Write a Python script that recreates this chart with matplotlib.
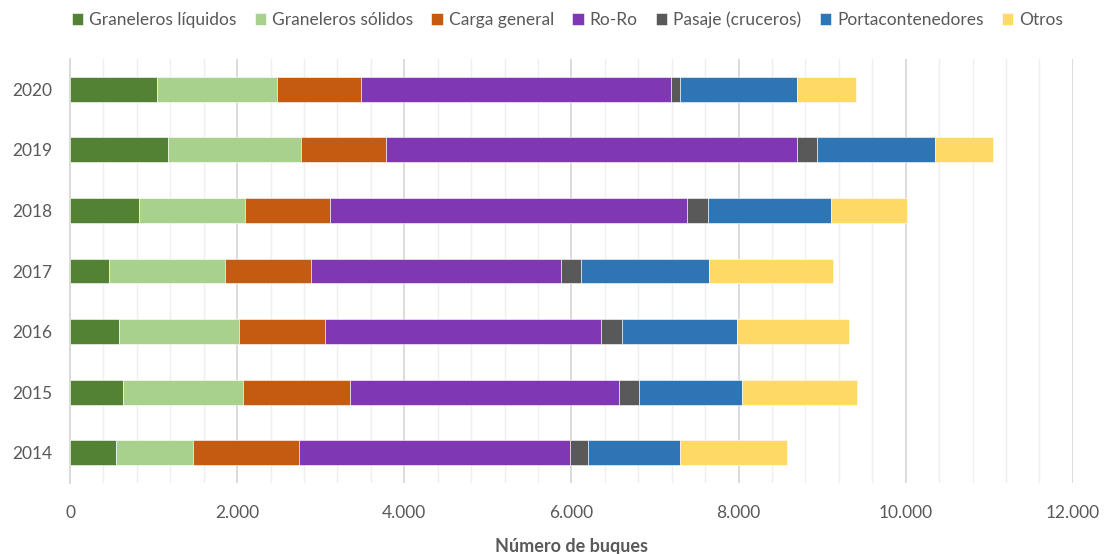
import matplotlib
matplotlib.use("Agg")
import matplotlib.pyplot as plt
import numpy as np
from matplotlib.ticker import MultipleLocator, FuncFormatter

years = ["2014", "2015", "2016", "2017", "2018", "2019", "2020"]
series = ["Graneleros líquidos", "Graneleros sólidos", "Carga general", "Ro-Ro",
          "Pasaje (cruceros)", "Portacontenedores", "Otros"]
colors = ["#548235", "#A9D18E", "#C55A11", "#7F37B4", "#595959", "#2E75B6", "#FFD966"]

graneleros_liquidos = [550, 634, 586, 470, 829, 1172, 1037]
graneleros_solidos = [921, 1435, 1436, 1380, 1261, 1595, 1435]
carga_general = [1264, 1280, 1028, 1033, 1020, 1009, 1009]
ro_ro = [3246, 3222, 3302, 2990, 4274, 4928, 3708]
pasaje = [219, 239, 251, 239, 248, 239, 116]
portacontenedores = [1100, 1228, 1376, 1535, 1475, 1404, 1395]
otros = [1277, 1384, 1339, 1480, 913, 694, 702]

data = [graneleros_liquidos, graneleros_solidos, carga_general, ro_ro,
        pasaje, portacontenedores, otros]

plt.rcParams["font.family"] = ["Lato", "DejaVu Sans"]
text_color = "#595959"

fig = plt.figure(figsize=(11.06, 5.54), dpi=100)
ax = fig.add_axes([0.0633, 0.128, 0.9067, 0.7655])

y = np.arange(len(years))
left = np.zeros(len(years))
for name, vals, col in zip(series, data, colors):
    vals = np.array(vals, dtype=float)
    ax.barh(y, vals, left=left, height=0.41, color=col, label=name,
            edgecolor="white", linewidth=0.4, zorder=3)
    left += vals

ax.set_xlim(0, 12000)
ax.set_ylim(-0.5, len(years) - 0.5)
ax.set_yticks(y)
ax.set_yticklabels(years)

ax.xaxis.set_major_locator(MultipleLocator(2000))
ax.xaxis.set_minor_locator(MultipleLocator(400))
ax.xaxis.set_major_formatter(FuncFormatter(lambda v, p: f"{int(v):,}".replace(",", ".")))
ax.grid(axis="x", which="major", color="#d9d9d9", linewidth=1.3, zorder=0)
ax.grid(axis="x", which="minor", color="#efefef", linewidth=1.0, zorder=0)
ax.set_axisbelow(True)

for s in ["top", "right", "bottom"]:
    ax.spines[s].set_visible(False)
ax.spines["left"].set_color("#d9d9d9")
ax.spines["left"].set_linewidth(1.3)

ax.tick_params(axis="both", which="both", length=0, colors=text_color, labelsize=12.5)
ax.tick_params(axis="x", pad=16)
ax.tick_params(axis="y", pad=13)

ax.set_xlabel("Número de buques", fontsize=13, fontweight="bold", color=text_color, labelpad=12)

leg = fig.legend(loc="upper center", bbox_to_anchor=(0.513, 1.007), ncol=7, frameon=False,
                 fontsize=12.5, handlelength=0.65, handleheight=0.65, handletextpad=0.35,
                 columnspacing=1.05)
for t in leg.get_texts():
    t.set_color(text_color)

fig.savefig("out.png", dpi=100)
